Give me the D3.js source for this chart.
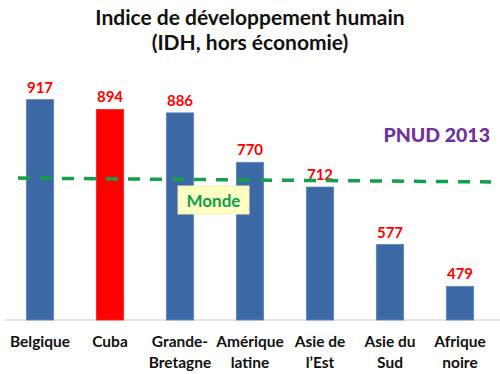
<!doctype html>
<html>
<head>
  <meta charset="utf-8">
  <title>IDH</title>
  <style>
    html, body { margin: 0; padding: 0; background: #fff; }
    svg { display: block; font-family: Lato, "Open Sans", sans-serif; }
  </style>
</head>
<body>
  <div id="chart"></div>
  <script src="https://d3js.org/d3.v7.min.js"></script>
  <script>
    // data
    const categories = [["Belgique"], ["Cuba"], ["Grande-", "Bretagne"], ["Amérique", "latine"],
                        ["Asie de", "l\u2019Est"], ["Asie du", "Sud"], ["Afrique", "noire"]];
    const values = [917, 894, 886, 770, 712, 577, 479];
    const highlight = [false, true, false, false, false, false, false];
    const monde = [733, 724];   // world level, start / end of the dashed line
    const titleLines = ["Indice de développement humain", "(IDH, hors économie)"];

    const width = 500, height = 374;
    const baseY = 320;

    const svg = d3.select("#chart").append("svg")
        .attr("width", width)
        .attr("height", height);

    const x = d3.scaleBand()
        .domain(d3.range(values.length))
        .range([5, 495])
        .paddingInner(0.61)
        .paddingOuter(0.305);

    const y = d3.scaleLinear()
        .domain([400, 1000])
        .range([baseY, 64.3]);

    // title
    svg.append("g").selectAll("text")
      .data(titleLines)
      .join("text")
        .attr("x", 250)
        .attr("y", (d, i) => 25 + i * 25)
        .attr("text-anchor", "middle")
        .style("font-size", "21px")
        .style("font-weight", "bold")
        .style("fill", "#111")
        .text(d => d);

    // axis baseline
    svg.append("line")
        .attr("x1", 5).attr("x2", 500)
        .attr("y1", baseY).attr("y2", baseY)
        .style("stroke", "#c8c8c8")
        .style("stroke-width", 1);

    // bars
    svg.append("g").selectAll("rect")
      .data(values)
      .join("rect")
        .attr("x", (d, i) => x(i))
        .attr("y", d => y(d))
        .attr("width", x.bandwidth())
        .attr("height", d => baseY - y(d))
        .style("fill", (d, i) => highlight[i] ? "#ff0000" : "#3c69a5")
        .style("stroke", (d, i) => highlight[i] ? "#ff2020" : "#5b84bb")
        .style("stroke-width", 0.8);

    // value labels
    svg.append("g").selectAll("text")
      .data(values)
      .join("text")
        .attr("x", (d, i) => x(i) + x.bandwidth() / 2)
        .attr("y", d => y(d) - 7)
        .attr("text-anchor", "middle")
        .style("font-size", "15px")
        .style("font-weight", "bold")
        .style("fill", "#ff0000")
        .text(d => d);

    // category labels
    const cat = svg.append("g").selectAll("text")
      .data(categories)
      .join("text")
        .attr("x", (d, i) => x(i) + x.bandwidth() / 2)
        .attr("y", 347)
        .attr("text-anchor", "middle")
        .style("font-size", "15.5px")
        .style("font-weight", "bold")
        .style("fill", "#111");
    cat.selectAll("tspan")
      .data(d => d)
      .join("tspan")
        .attr("x", function () { return d3.select(this.parentNode).attr("x"); })
        .attr("dy", (d, i) => i ? 20.5 : 0)
        .text(d => d);

    // world dashed line
    svg.append("line")
        .attr("x1", 18).attr("x2", 491)
        .attr("y1", y(monde[0])).attr("y2", y(monde[1]))
        .style("stroke", "#12a048")
        .style("stroke-width", 3.5)
        .style("stroke-dasharray", "12,10");

    // Monde box
    svg.append("rect")
        .attr("x", 178).attr("y", 186)
        .attr("width", 71).attr("height", 28)
        .style("fill", "#ffffc4")
        .style("stroke", "#f4f0b0")
        .style("stroke-width", 1);
    svg.append("text")
        .attr("x", 213.5).attr("y", 206.5)
        .attr("text-anchor", "middle")
        .style("font-size", "17px")
        .style("font-weight", "bold")
        .style("fill", "#0ba04a")
        .text("Monde");

    // source
    svg.append("text")
        .attr("x", 490).attr("y", 142)
        .attr("text-anchor", "end")
        .style("font-size", "19.5px")
        .style("font-weight", "900")
        .style("fill", "#7030a0")
        .text("PNUD 2013");
  </script>
</body>
</html>
